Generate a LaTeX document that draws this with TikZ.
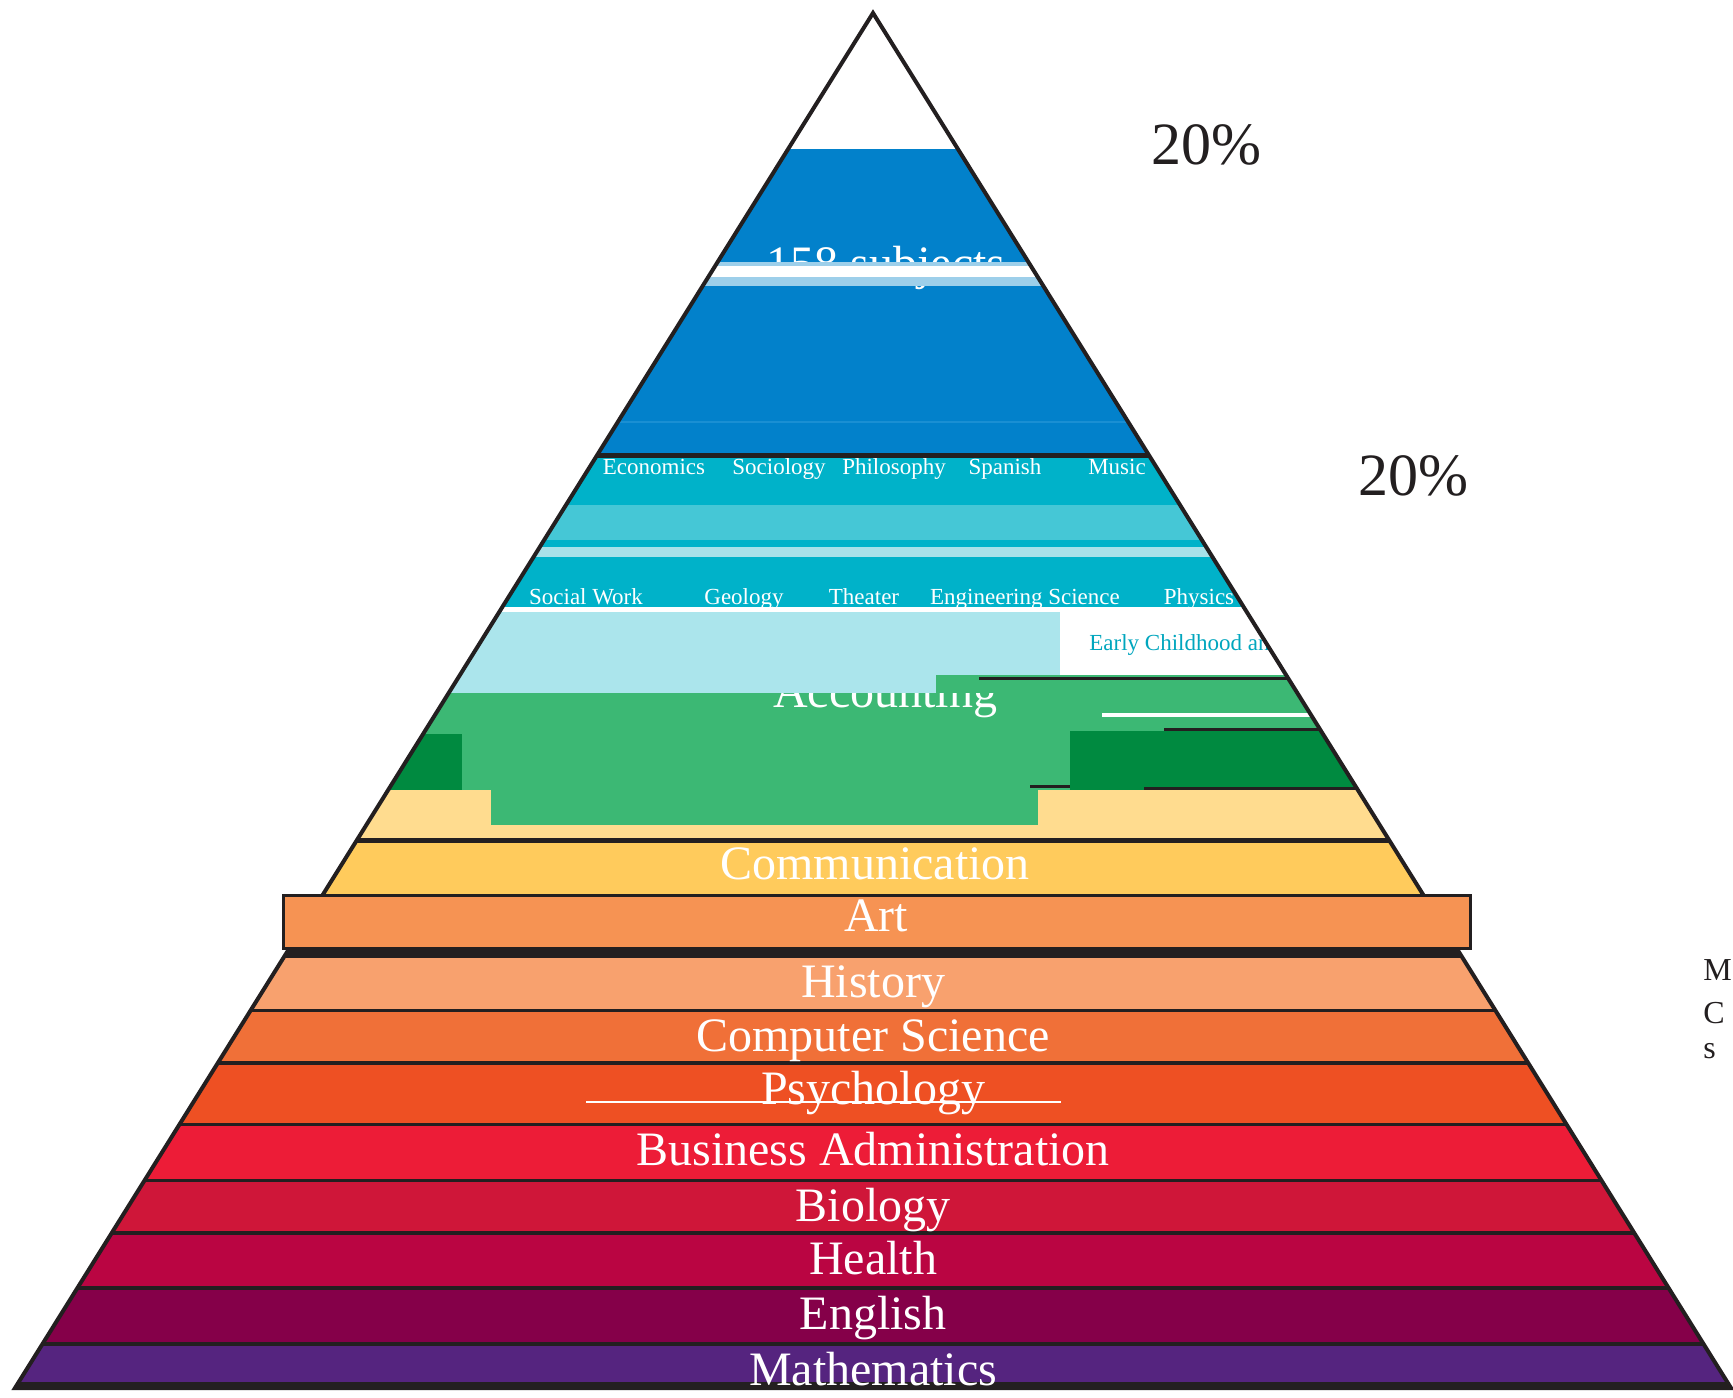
\documentclass[tikz,border=0pt]{standalone}
\usepackage{fontspec}
\setmainfont{Liberation Serif}
\usepackage{tikz}
\definecolor{outline}{HTML}{231F20}
\definecolor{topblue}{HTML}{0281CB}
\definecolor{blueline}{HTML}{1A8FD3}
\definecolor{paleblue}{HTML}{9DCFEA}
\definecolor{teal}{HTML}{00B2C9}
\definecolor{liteteal}{HTML}{45C7D6}
\definecolor{strip}{HTML}{A8E1E9}
\definecolor{cyan}{HTML}{ABE5EC}
\definecolor{darkteal}{HTML}{00A6BE}
\definecolor{green}{HTML}{3CB874}
\definecolor{darkgreen}{HTML}{008A40}
\definecolor{paleyellow}{HTML}{FFDC8F}
\definecolor{yellow}{HTML}{FFCB5C}
\definecolor{art}{HTML}{F69353}
\definecolor{history}{HTML}{F8A16E}
\definecolor{compsci}{HTML}{F07038}
\definecolor{psych}{HTML}{EE5023}
\definecolor{business}{HTML}{ED1C37}
\definecolor{biology}{HTML}{CF1639}
\definecolor{health}{HTML}{BA0542}
\definecolor{english}{HTML}{850049}
\definecolor{maths}{HTML}{55247F}
\tikzstyle{lbl} = [text=white, anchor=base, inner sep=0pt, font=\fontsize{24}{28}\selectfont]
\tikzstyle{sublbl} = [text=white, anchor=base, inner sep=0pt, font=\fontsize{11.5}{13}\selectfont]
\tikzstyle{pct} = [text=outline, anchor=base, inner sep=0pt, font=\fontsize{30}{34}\selectfont]
\tikzstyle{side} = [text=outline, anchor=base west, inner sep=0pt, font=\fontsize{16}{18}\selectfont]

\begin{document}
\begin{tikzpicture}[x=0.5pt,y=-0.5pt]
	\useasboundingbox (0,0) rectangle (1733,1397);
	\begin{scope}
		\clip (873,13) -- (15,1388) -- (1731,1388) -- cycle;
		% blue top
		\fill[topblue] (0,149) rectangle (1733,455);
		\fill[blueline] (0,421) rectangle (1733,423);
		\node[lbl] (subjects) at (886,279) {158 subjects};
		\fill[paleblue] (0,262) rectangle (1733,286);
		\fill[white] (0,266) rectangle (1733,277);
		\fill[outline] (0,453) rectangle (1733,458);
		% teal rows
		\fill[teal] (0,458) rectangle (1733,608);
		\fill[liteteal] (0,505) rectangle (1733,540);
		\fill[strip] (0,547) rectangle (1733,557);
		\node[sublbl] (econ) at (654,474) {Economics};
		\node[sublbl] (soc) at (779,474) {Sociology};
		\node[sublbl] (phil) at (894,474) {Philosophy};
		\node[sublbl] (span) at (1005,474) {Spanish};
		\node[sublbl] (music) at (1117,474) {Music};
		\node[sublbl] (socwork) at (586,604) {Social Work};
		\node[sublbl] (geol) at (744,604) {Geology};
		\node[sublbl] (theat) at (864,604) {Theater};
		\node[sublbl] (engsci) at (1025,604) {Engineering Science};
		\node[sublbl] (phys) at (1199,604) {Physics};
		\fill[white] (0,607) rectangle (1733,612);
		% light cyan and the white box
		\fill[cyan] (0,612) rectangle (1060,693);
		\fill[white] (1085,612) -- (1733,612) -- (1733,678) -- (1060,678) -- (1060,633) -- (1085,633) -- cycle;
		\node[sublbl, text=darkteal, anchor=base west] (early) at (1089,650) {Early Childhood and Elementary Education};
		% green rows
		\fill[green] (936,675) rectangle (1733,693);
		\fill[outline] (979,677) rectangle (1733,680);
		\fill[green] (0,693) rectangle (1733,790);
		\fill[white] (1102,713) rectangle (1733,717);
		\fill[outline] (1164,728) rectangle (1733,733);
		\fill[darkgreen] (0,734) rectangle (462,791);
		\fill[darkgreen] (1070,731) rectangle (1733,790);
		\fill[outline] (1144,787) rectangle (1733,790);
		\fill[outline] (1030,785) rectangle (1070,788);
		\begin{scope}
			\clip (0,693) rectangle (1733,800);
			\node[lbl] (acc) at (885,707) {Accounting};
		\end{scope}
		% yellow rows
		\fill[paleyellow] (0,790) rectangle (1733,840);
		\fill[green] (491,790) rectangle (1038,825);
		\fill[outline] (0,838) rectangle (1733,843);
		\fill[yellow] (0,843) rectangle (1733,895);
		\node[lbl] (comm) at (875,879) {Communication};
		% lower bands
		\fill[outline] (0,948) rectangle (1733,1388);
		\foreach \ya/\yb/\col/\nm/\txt in {958/1009/history/hist/History, 1012/1061/compsci/cs/Computer Science, 1065/1123/psych/psy/Psychology, 1126/1179/business/bus/Business Administration, 1182/1231/biology/bio/Biology, 1235/1286/health/hlth/Health, 1290/1342/english/eng/English, 1346/1382/maths/math/Mathematics}
		{
			\fill[\col] (0,\ya) rectangle (1733,\yb);
			\node[lbl] (\nm) at (873,\ya+39) {\txt};
		}
		\fill[white] (586,1101) rectangle (1061,1103);
	\end{scope}
	\draw[outline, line width=2pt] (873,13) -- (15,1388) -- (1731,1388) -- cycle;
	% art box
	\draw[outline, line width=1.5pt, fill=art] (283,895) rectangle (1470,948);
	\node[lbl] (artlbl) at (876,931) {Art};
	% percentages
	\node[pct] (pcta) at (1206,164) {20\%};
	\node[pct] (pctb) at (1413,495) {20\%};
	\node[side] (sidea) at (1703,980) {M};
	\node[side] (sideb) at (1703,1023) {C};
	\node[side] (sidec) at (1703,1058) {s};
\end{tikzpicture}
\end{document}
